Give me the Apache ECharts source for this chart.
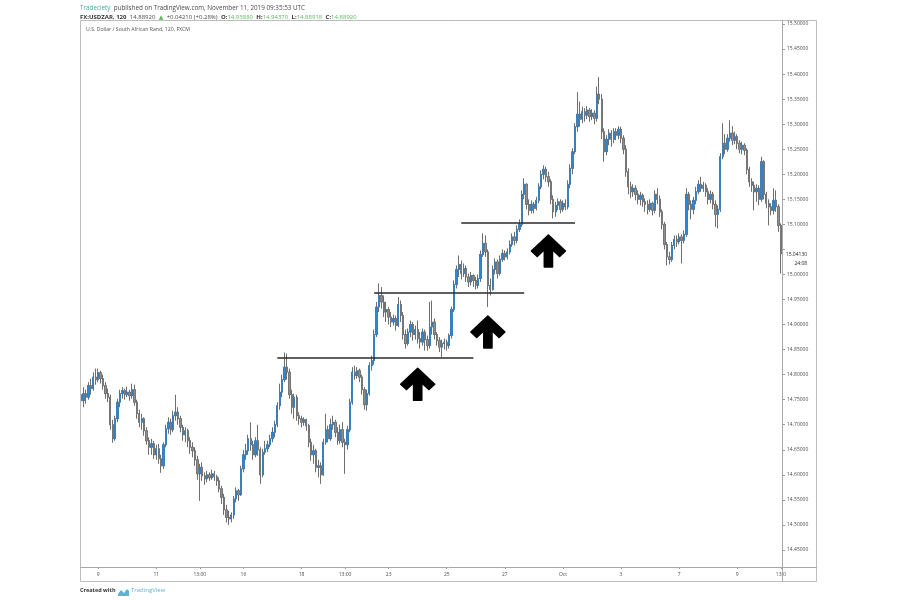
<!DOCTYPE html>
<html>
<head>
<meta charset="utf-8">
<script src="https://cdn.jsdelivr.net/npm/echarts/dist/echarts.min.js"></script>
<style>
  html, body { margin: 0; padding: 0; background: #ffffff; }
  #chart { width: 900px; height: 600px; }
</style>
</head>
<body>
<div id="chart"></div>
<script>
// ---------- time axis (2h candles, FXCM USD/ZAR) ----------
const firstDayHours = ['09:00','11:00','13:00','15:00','17:00','19:00','21:00'];
const fullDayHours = ['01:00','03:00','05:00','07:00','09:00','11:00','13:00','15:00','17:00','19:00','21:00','23:00'];
const lastDayHours = ['01:00','03:00','05:00','07:00','09:00','11:00','13:00'];
const firstDay = '2019-09-06';
const fullDays = ['2019-09-09','2019-09-10','2019-09-11','2019-09-12','2019-09-13',
                  '2019-09-16','2019-09-17','2019-09-18','2019-09-19','2019-09-20',
                  '2019-09-23','2019-09-24','2019-09-25','2019-09-26','2019-09-27',
                  '2019-09-30','2019-10-01','2019-10-02','2019-10-03','2019-10-04',
                  '2019-10-07','2019-10-08','2019-10-09'];
const lastDay = '2019-10-10';

// x-axis tick labels (category index -> text)
const tickIndex = [7, 31, 49, 67, 91, 109, 127, 151, 175, 199, 223, 247, 271, 289];
const tickText  = ['9','11','13:00','16','18','13:00','23','25','27','Oct','3','7','9','13:0'];

// y-axis tick labels
const yTickValues = [14.45,14.50,14.55,14.60,14.65,14.70,14.75,14.80,14.85,14.90,14.95,15.00,15.05,15.10,15.15,15.20,15.25,15.30,15.35,15.40,15.45,15.50];
const yLabelValues = [14.45,14.50,14.55,14.60,14.65,14.70,14.75,14.80,14.85,14.90,14.95,15.00,15.10,15.15,15.20,15.25,15.30,15.35,15.40,15.45,15.50];

// ---------- OHLC (open of each candle = previous close) ----------
const firstOpen = 14.760;
const closes = [
14.748,14.762,14.755,14.778,14.772,14.795,14.790,14.804,14.792,14.778,
14.762,14.755,14.700,14.672,14.712,14.745,14.762,14.768,14.760,14.765,
14.758,14.770,14.745,14.722,14.705,14.712,14.688,14.668,14.655,14.662,
14.640,14.652,14.632,14.618,14.660,14.692,14.705,14.690,14.718,14.725,
14.712,14.695,14.680,14.688,14.668,14.655,14.648,14.630,14.602,14.615,
14.598,14.592,14.600,14.594,14.602,14.596,14.588,14.572,14.555,14.530,
14.515,14.512,14.520,14.552,14.568,14.560,14.612,14.640,14.648,14.672,
14.660,14.640,14.668,14.650,14.600,14.645,14.652,14.660,14.672,14.685,
14.700,14.738,14.765,14.790,14.815,14.805,14.760,14.735,14.755,14.718,
14.712,14.705,14.710,14.698,14.665,14.640,14.648,14.615,14.618,14.600,
14.665,14.690,14.672,14.700,14.705,14.685,14.668,14.690,14.665,14.660,
14.690,14.745,14.805,14.798,14.808,14.795,14.770,14.740,14.762,14.818,
14.828,14.880,14.935,14.958,14.945,14.925,14.930,14.915,14.905,14.912,
14.898,14.940,14.918,14.880,14.862,14.885,14.900,14.880,14.890,14.872,
14.865,14.885,14.870,14.858,14.895,14.905,14.880,14.868,14.855,14.862,
14.865,14.858,14.878,14.930,14.980,15.010,15.020,15.002,15.012,14.995,
14.985,14.998,14.988,14.978,14.992,15.040,15.062,15.045,14.978,14.970,
15.010,15.025,15.002,15.030,15.042,15.035,15.045,15.060,15.075,15.068,
15.090,15.100,15.160,15.180,15.140,15.128,15.140,15.132,15.148,15.175,
15.200,15.210,15.195,15.185,15.150,15.125,15.138,15.145,15.130,15.142,
15.135,15.180,15.212,15.245,15.295,15.320,15.310,15.325,15.318,15.328,
15.315,15.322,15.312,15.360,15.350,15.285,15.245,15.270,15.282,15.270,
15.285,15.278,15.290,15.272,15.250,15.205,15.175,15.165,15.172,15.160,
15.150,15.158,15.145,15.140,15.130,15.142,15.128,15.160,15.150,15.125,
15.100,15.060,15.035,15.030,15.058,15.070,15.065,15.075,15.068,15.080,
15.160,15.140,15.130,15.148,15.165,15.180,15.172,15.178,15.165,15.150,
15.160,15.140,15.120,15.130,15.235,15.262,15.250,15.272,15.282,15.268,
15.275,15.262,15.250,15.258,15.248,15.210,15.185,15.178,15.165,15.172,
15.150,15.225,15.160,15.142,15.135,15.128,15.148,15.135,15.098,15.0413
];
const highs = [
14.768,14.775,14.770,14.785,14.792,14.805,14.812,14.812,14.808,14.800,
14.785,14.772,14.760,14.710,14.718,14.752,14.770,14.775,14.772,14.776,
14.770,14.782,14.780,14.750,14.730,14.722,14.715,14.695,14.675,14.672,
14.668,14.660,14.662,14.640,14.665,14.700,14.715,14.712,14.728,14.760,
14.735,14.718,14.700,14.695,14.692,14.675,14.665,14.655,14.638,14.622,
14.625,14.605,14.608,14.605,14.610,14.608,14.600,14.595,14.578,14.562,
14.540,14.528,14.525,14.558,14.575,14.572,14.618,14.650,14.662,14.680,
14.705,14.668,14.675,14.700,14.655,14.652,14.668,14.668,14.680,14.695,
14.708,14.745,14.782,14.800,14.844,14.842,14.812,14.770,14.762,14.760,
14.725,14.718,14.715,14.712,14.702,14.672,14.660,14.652,14.630,14.625,
14.672,14.722,14.698,14.712,14.718,14.710,14.695,14.700,14.705,14.672,
14.698,14.752,14.815,14.818,14.815,14.812,14.800,14.775,14.770,14.825,
14.838,14.890,14.945,14.982,14.975,14.958,14.945,14.935,14.925,14.920,
14.918,14.955,14.948,14.925,14.890,14.892,14.908,14.905,14.898,14.908,
14.885,14.892,14.890,14.878,14.945,14.948,14.912,14.885,14.875,14.870,
14.872,14.870,14.882,14.936,14.988,15.018,15.038,15.028,15.022,15.018,
15.002,15.005,15.000,14.995,15.000,15.048,15.082,15.078,15.050,14.992,
15.018,15.032,15.030,15.038,15.050,15.048,15.052,15.068,15.082,15.085,
15.098,15.110,15.168,15.192,15.182,15.150,15.148,15.145,15.155,15.182,
15.208,15.218,15.215,15.205,15.190,15.158,15.145,15.152,15.150,15.148,
15.150,15.188,15.220,15.252,15.302,15.364,15.345,15.335,15.332,15.336,
15.332,15.330,15.328,15.375,15.394,15.360,15.292,15.278,15.290,15.288,
15.292,15.292,15.296,15.295,15.278,15.258,15.212,15.185,15.180,15.178,
15.168,15.165,15.162,15.152,15.148,15.150,15.145,15.168,15.172,15.158,
15.130,15.105,15.065,15.045,15.065,15.078,15.078,15.082,15.080,15.088,
15.172,15.165,15.148,15.155,15.175,15.188,15.195,15.185,15.182,15.172,
15.168,15.165,15.148,15.138,15.242,15.302,15.280,15.280,15.308,15.296,
15.285,15.280,15.268,15.265,15.262,15.252,15.215,15.192,15.185,15.180,
15.178,15.235,15.228,15.165,15.150,15.142,15.172,15.168,15.140,15.102
];
const lows = [
14.728,14.735,14.742,14.750,14.760,14.768,14.780,14.785,14.782,14.770,
14.752,14.745,14.690,14.664,14.668,14.705,14.735,14.752,14.750,14.755,
14.748,14.752,14.738,14.712,14.695,14.690,14.678,14.660,14.640,14.640,
14.632,14.630,14.622,14.604,14.612,14.655,14.682,14.680,14.685,14.708,
14.700,14.685,14.668,14.665,14.655,14.642,14.635,14.618,14.590,14.548,
14.588,14.580,14.585,14.588,14.590,14.588,14.578,14.565,14.542,14.520,
14.505,14.500,14.505,14.512,14.545,14.548,14.558,14.605,14.630,14.640,
14.648,14.630,14.635,14.638,14.582,14.595,14.640,14.645,14.655,14.665,
14.675,14.695,14.730,14.755,14.785,14.790,14.752,14.722,14.712,14.708,
14.700,14.695,14.698,14.688,14.655,14.628,14.622,14.605,14.595,14.582,
14.598,14.660,14.665,14.668,14.690,14.675,14.660,14.662,14.655,14.602,
14.650,14.685,14.740,14.790,14.792,14.785,14.760,14.730,14.728,14.758,
14.808,14.820,14.875,14.925,14.932,14.915,14.905,14.900,14.895,14.898,
14.888,14.895,14.905,14.870,14.852,14.858,14.875,14.868,14.870,14.862,
14.852,14.858,14.848,14.848,14.852,14.880,14.870,14.858,14.845,14.835,
14.850,14.848,14.852,14.872,14.925,14.972,14.995,14.990,14.995,14.985,
14.975,14.978,14.975,14.970,14.972,14.985,15.035,15.035,14.935,14.958,
14.968,15.000,14.992,14.998,15.025,15.028,15.030,15.040,15.055,15.058,
15.062,15.085,15.095,15.150,15.130,15.118,15.122,15.122,15.128,15.142,
15.170,15.190,15.185,15.175,15.140,15.112,15.115,15.128,15.122,15.125,
15.128,15.130,15.172,15.200,15.240,15.285,15.295,15.302,15.305,15.310,
15.305,15.308,15.300,15.305,15.340,15.270,15.225,15.238,15.258,15.255,
15.262,15.268,15.270,15.262,15.240,15.195,15.160,15.152,15.155,15.148,
15.140,15.138,15.135,15.125,15.120,15.125,15.118,15.122,15.140,15.115,
15.090,15.050,15.018,15.020,15.025,15.050,15.055,15.060,15.022,15.062,
15.075,15.128,15.110,15.120,15.140,15.160,15.165,15.165,15.155,15.140,
15.142,15.130,15.095,15.092,15.125,15.230,15.240,15.245,15.265,15.258,
15.260,15.250,15.242,15.240,15.238,15.200,15.175,15.165,15.128,15.145,
15.138,15.145,15.150,15.132,15.098,15.118,15.120,15.125,15.085,15.002
];

// ---------- annotations ----------
const levelStart = [81, 121, 157];
const levelEnd   = [162, 183, 204];
const levelPrice = [14.834, 14.9625, 15.1025];
const arrowIdx   = [139, 168, 193];
const arrowPrice = [14.781, 14.885, 15.047];
const lastPrice = 15.0413;
const lastPriceText = '15.04130';
const countdownText = '24:08';

// ---------- build ----------
const categories = [];
firstDayHours.forEach(h => categories.push(firstDay + ' ' + h));
fullDays.forEach(d => fullDayHours.forEach(h => categories.push(d + ' ' + h)));
lastDayHours.forEach(h => categories.push(lastDay + ' ' + h));

const fullCandles = [];
const bodyCandles = [];
for (let i = 0; i < closes.length; i++) {
  const o = i === 0 ? firstOpen : closes[i - 1];
  const c = closes[i];
  const h = Math.max(highs[i], o, c);
  const l = Math.min(lows[i], o, c);
  fullCandles.push([o, c, l, h]);
  bodyCandles.push([o, c, Math.min(o, c), Math.max(o, c)]);
}
const tickMap = {};
tickIndex.forEach((idx, k) => { tickMap[idx] = tickText[k]; });

const arrowPath = 'path://M50 0 L100 50 L83 67 L62 46 L62 100 L38 100 L38 46 L17 67 L0 50 Z';

const chart = echarts.init(document.getElementById('chart'), null, { renderer: 'canvas' });
const FONT = '"Open Sans", "DejaVu Sans", sans-serif';

chart.setOption({
  animation: false,
  backgroundColor: '#ffffff',
  textStyle: { fontFamily: FONT },
  grid: { left: 80, right: 118, top: 20, bottom: 33, containLabel: false },
  xAxis: {
    type: 'category',
    data: categories,
    boundaryGap: true,
    axisLine: { show: false },
    axisTick: {
      show: true, alignWithLabel: true, length: 2,
      interval: (idx) => tickMap[idx] !== undefined,
      lineStyle: { color: '#9a9a9a' }
    },
    axisLabel: {
      interval: (idx) => tickMap[idx] !== undefined,
      formatter: (val, idx) => tickMap[idx] || '',
      fontSize: 5, color: '#4a4a4a', margin: 5, fontFamily: FONT
    },
    splitLine: { show: false }
  },
  yAxis: {
    type: 'value',
    position: 'right',
    min: 14.416,
    max: 15.508,
    scale: true,
    axisLine: { show: false },
    axisTick: { show: true, length: 3, customValues: yTickValues, lineStyle: { color: '#9a9a9a' } },
    axisLabel: {
      customValues: yLabelValues,
      formatter: (v) => v.toFixed(5),
      fontSize: 5, color: '#4a4a4a', margin: 5, fontFamily: FONT
    },
    splitLine: { show: false }
  },
  series: [
    {
      name: 'wicks',
      type: 'candlestick',
      data: fullCandles,
      barWidth: 1.8,
      itemStyle: { color: '#5e5e5e', color0: '#5e5e5e', borderColor: '#5e5e5e', borderColor0: '#5e5e5e', borderWidth: 0.9 },
      markPoint: {
        symbol: 'rect', symbolSize: [0.1, 0.1],
        itemStyle: { color: 'rgba(0,0,0,0)' },
        label: {
          show: true, position: 'right', distance: 4, offset: [0, 5],
          formatter: '{a|' + lastPriceText + '}\n{b|' + countdownText + '}',
          backgroundColor: '#ffffff', padding: [1, 2, 1, 1],
          rich: {
            a: { fontSize: 5, color: '#222222', fontFamily: FONT, lineHeight: 9 },
            b: { fontSize: 5, color: '#222222', fontFamily: FONT, lineHeight: 9, align: 'right' }
          }
        },
        data: [{ coord: [closes.length - 1, lastPrice] }]
      }
    },
    {
      name: 'bodies',
      type: 'candlestick',
      data: bodyCandles,
      barWidth: 1.8,
      itemStyle: { color: '#2f87d2', color0: '#8f8f8f', borderColor: '#2f87d2', borderColor0: '#727272', borderWidth: 0.5 },
      markLine: {
        silent: true,
        symbol: ['none', 'none'],
        label: { show: false },
        lineStyle: { color: '#2a2a2a', width: 1.6, type: 'solid' },
        data: levelPrice.map((p, k) => [
          { coord: [levelStart[k], p] },
          { coord: [levelEnd[k], p] }
        ])
      },
      markPoint: {
        symbol: arrowPath,
        symbolSize: [34, 32],
        symbolKeepAspect: false,
        itemStyle: { color: '#000000', borderColor: '#000000', borderWidth: 1.5, borderJoin: 'round' },
        label: { show: false },
        data: arrowIdx.map((idx, k) => ({ coord: [idx, arrowPrice[k]] }))
      }
    }
  ],
  graphic: [
    { type: 'rect', silent: true, z: 10,
      shape: { x: 80.5, y: 20.5, width: 736, height: 561 },
      style: { fill: 'none', stroke: '#bdbdbd', lineWidth: 1 } },
    { type: 'line', silent: true, z: 10,
      shape: { x1: 80, y1: 567.5, x2: 817, y2: 567.5 },
      style: { stroke: '#a8a8a8', lineWidth: 1 } },
    { type: 'line', silent: true, z: 10,
      shape: { x1: 782.5, y1: 20, x2: 782.5, y2: 582 },
      style: { stroke: '#a8a8a8', lineWidth: 1 } },
    { type: 'text', x: 80, y: 2, silent: true,
      style: {
        text: '{g|Tradeciety} {n|published on TradingView.com, November 11, 2019 09:35:53 UTC}',
        rich: {
          g: { fontSize: 6.3, fontFamily: FONT, fill: '#3fae9b' },
          n: { fontSize: 6.3, fontFamily: FONT, fill: '#4a4a4a' }
        }
      } },
    { type: 'text', x: 80, y: 11, silent: true,
      style: {
        text: '{b|FX:USDZAR, 120} {n|14.88920} {gr|▲} {n|+0.04210 (+0.28%)} {b|O:}{gr|14.93880} {b|H:}{gr|14.94370} {b|L:}{gr|14.88918} {b|C:}{gr|14.88920}',
        rich: {
          b: { fontSize: 6, fontFamily: FONT, fontWeight: 'bold', fill: '#333333' },
          n: { fontSize: 6, fontFamily: FONT, fill: '#4a4a4a' },
          gr: { fontSize: 6, fontFamily: FONT, fill: '#5cb85c' }
        }
      } },
    { type: 'text', x: 86, y: 27, silent: true,
      style: { text: 'U.S. Dollar / South African Rand, 120, FXCM', fontSize: 5.2, fontFamily: FONT, fill: '#555555' } },
    { type: 'text', x: 80, y: 587, silent: true,
      style: { text: 'Created with', fontSize: 5.5, fontWeight: 'bold', fontFamily: FONT, fill: '#333333' } },
    { type: 'polygon', silent: true,
      shape: { points: [[118, 594], [121, 590], [124, 593], [127, 589], [129, 591], [129, 596], [118, 596]] },
      style: { fill: '#5ab4d6' } },
    { type: 'text', x: 131, y: 587, silent: true,
      style: { text: 'TradingView', fontSize: 6, fontFamily: FONT, fill: '#5ab4d6' } }
  ]
});
</script>
</body>
</html>
